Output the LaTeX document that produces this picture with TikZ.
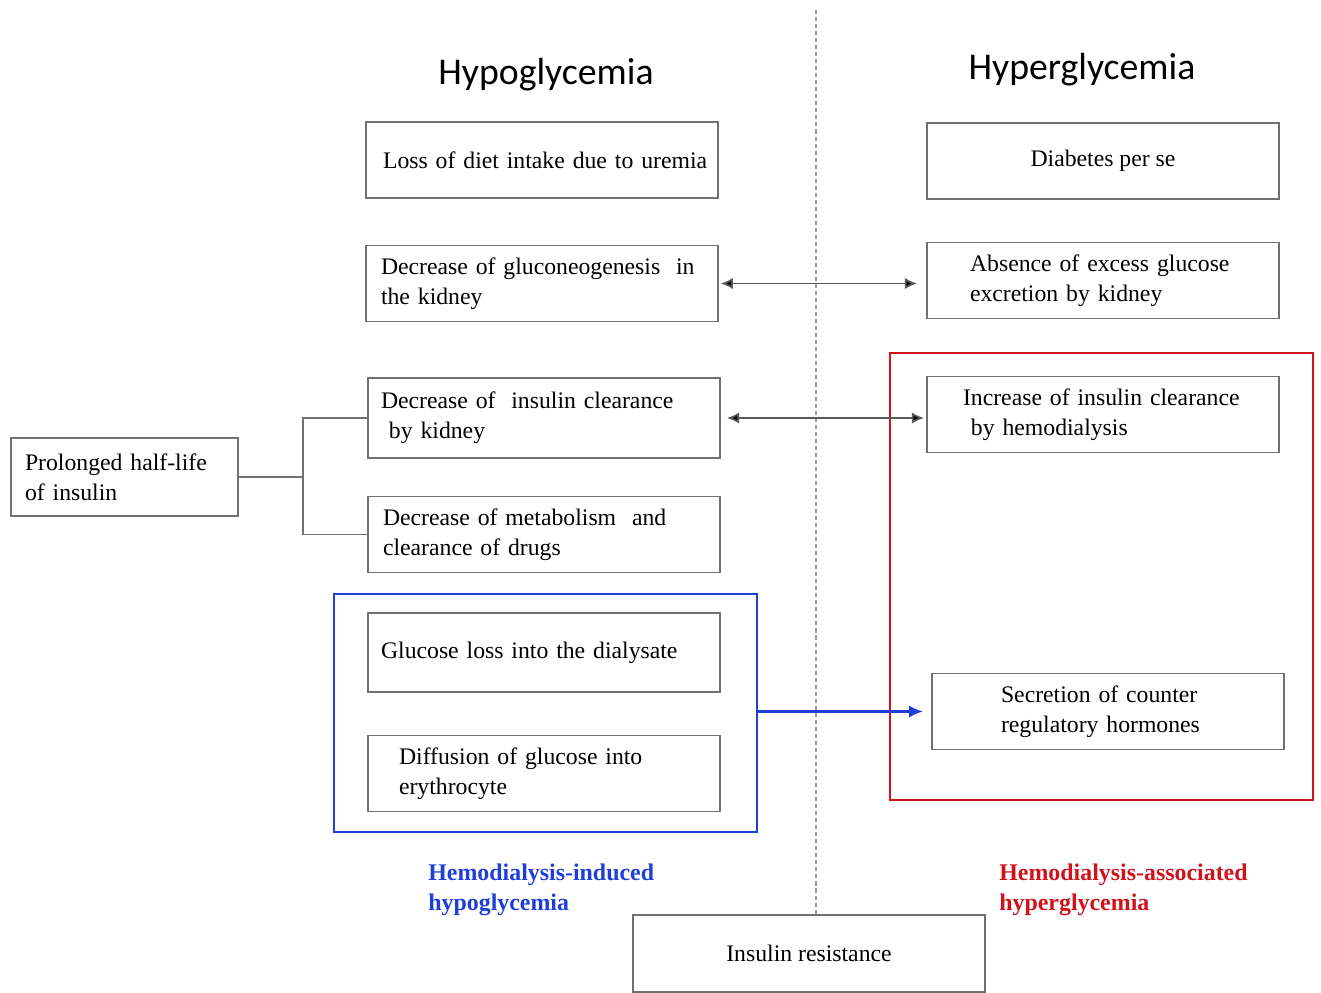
\documentclass[tikz,border=0pt]{standalone}
\usepackage{fontspec}
\setmainfont{Liberation Serif}
\newfontfamily\titlefont{Carlito}
\usetikzlibrary{arrows.meta}
\definecolor{boxgray}{HTML}{707070}
\definecolor{hdblue}{HTML}{1F3FD8}
\definecolor{hdred}{HTML}{D0121B}
\definecolor{divgray}{HTML}{9A9A9A}
\begin{document}
\begin{tikzpicture}[x=0.02cm,y=-0.02cm,
  box/.style={draw=boxgray, line width=1.1pt, minimum height=1.52cm, inner ysep=0pt,
    font=\fontsize{13.5}{17}\selectfont},
  lbox/.style={box, align=left},
  cbox/.style={box, align=center, minimum width=7.04cm},
  title/.style={font=\titlefont\fontsize{21.5}{25}\selectfont},
  twoway/.style={draw=black!65, line width=1pt, {Latex[length=7pt,width=6.5pt,fill=black]}-{Latex[length=7pt,width=6.5pt,fill=black]}},
  conn/.style={draw=boxgray, line width=1.1pt},
  divider/.style={draw=divgray, line width=1pt, dash pattern=on 2.3pt off 1.7pt},
  frame/.style={draw=#1, line width=1.4pt, inner sep=0pt},
  hdlabel/.style={text=#1, font=\bfseries\fontsize{13.6}{17}\selectfont, align=left, inner sep=0pt, anchor=west}
]
\useasboundingbox (0,0) rectangle (1321,992);

% titles
\node[title] (thypo) at (546,75) {Hypoglycemia};
\node[title] (thyper) at (1082,70) {Hyperglycemia};

% left column
\node[lbox, inner xsep=0.34cm, text width=6.36cm] (loss) at (542,160) {\mbox{Loss of diet intake due to uremia}};
\node[lbox, inner xsep=0.30cm, text width=6.44cm] (glu) at (542,283.5) {Decrease of gluconeogenesis\ \ in\\the kidney};
\node[lbox, inner xsep=0.26cm, text width=6.52cm, minimum height=1.6cm] (ins) at (544,418) {Decrease of\ \ insulin clearance\\\ by kidney};
\node[lbox, inner xsep=0.30cm, text width=6.44cm] (met) at (544,534.5) {Decrease of metabolism\ \ and\\clearance of drugs};
\node[lbox, inner xsep=0.26cm, text width=6.52cm, minimum height=1.58cm] (gl) at (544,652.5) {Glucose loss into the dialysate};
\node[lbox, inner xsep=0.62cm, text width=5.80cm] (dif) at (544,773.5) {Diffusion of glucose into\\erythrocyte};

% right column
\node[cbox] (diab) at (1103,161) {Diabetes per se};
\node[lbox, inner xsep=0.86cm, text width=5.32cm] (abs) at (1103,280.5) {Absence of excess glucose\\excretion by kidney};
\node[lbox, inner xsep=0.72cm, text width=5.60cm] (inc) at (1103,414.5) {Increase of insulin clearance\\\ by hemodialysis};
\node[lbox, inner xsep=1.38cm, text width=4.28cm] (sec) at (1108,711.5) {Secretion of counter\\regulatory hormones};

% far left
\node[lbox, inner xsep=0.28cm, text width=3.98cm, minimum height=1.56cm] (prol) at (124.5,477) {Prolonged half-life\\of insulin};

% bottom
\node[cbox, minimum height=1.54cm] (ir) at (809,953.5) {Insulin resistance};

% group frames
\node[frame=hdblue, minimum width=8.46cm, minimum height=4.76cm] (hdi) at (545.5,713) {};
\node[frame=hdred, minimum width=8.46cm, minimum height=8.94cm] (hda) at (1101.5,576.5) {};

% frame labels
\node[hdlabel=hdblue] (lblue) at (428,890) {Hemodialysis-induced\\hypoglycemia};
\node[hdlabel=hdred] (lred) at (999,890) {Hemodialysis-associated\\hyperglycemia};

% divider
\coordinate (dtop) at (816,10);
\draw[divider] (dtop) -- (dtop |- ir.north);

% connectors
\draw[twoway, shorten <=1pt, shorten >=0.18cm] (glu.east) -- (glu.east -| abs.west);
\draw[twoway, shorten <=0.12cm, shorten >=0.04cm] (ins.east) -- (ins.east -| inc.west);
\draw[draw=hdblue, line width=1.3pt, -{Latex[length=8pt,width=7pt]}, shorten >=0.16cm] (hdi.east |- sec.west) -- (sec.west);

\coordinate (br) at (303,477);
\draw[conn] (prol.east) -- (br);
\draw[conn] (ins.west) -| (br) |- (met.west);
\end{tikzpicture}
\end{document}
